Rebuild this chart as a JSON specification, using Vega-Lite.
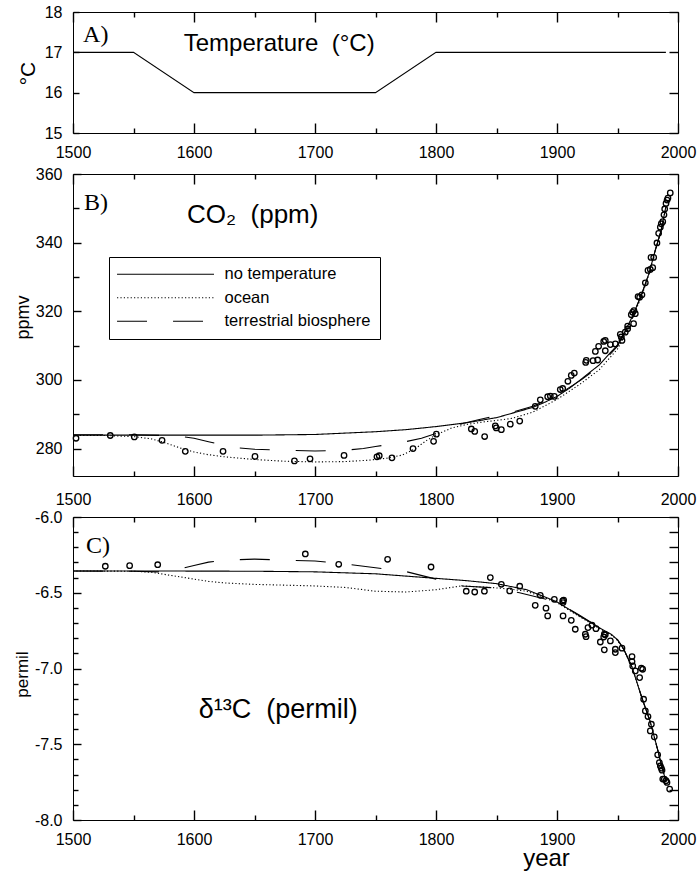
{
  "$schema": "https://vega.github.io/schema/vega-lite/v6.json",
  "background": "white",
  "padding": {"left": 12, "top": 3, "right": 3, "bottom": 0},
  "bounds": "flush",
  "spacing": 41,
  "resolve": {"scale": {"strokeDash": "independent"}, "legend": {"strokeDash": "independent"}},
  "config": {
    "font": "Liberation Sans",
    "view": {"stroke": "black", "strokeWidth": 1, "fill": "white"},
    "axis": {
      "grid": false,
      "domain": false,
      "labelFont": "Liberation Sans",
      "labelFontSize": 16,
      "labelColor": "black",
      "tickColor": "black",
      "tickWidth": 1.4,
      "titleFont": "Liberation Sans",
      "titleFontWeight": "normal",
      "titleColor": "black",
      "labelFlush": false,
      "labelOverlap": false,
      "labelBound": false
    }
  },
  "datasets": {
    "temperature": [
      {"year": 1500, "value": 17}, {"year": 1550, "value": 17}, {"year": 1600, "value": 16},
      {"year": 1750, "value": 16}, {"year": 1800, "value": 17}, {"year": 1990, "value": 17}
    ],
    "co2_model": [
      {"series": "no temperature", "year": 1500, "value": 283.9},
      {"series": "no temperature", "year": 1600, "value": 283.9},
      {"series": "no temperature", "year": 1650, "value": 283.9},
      {"series": "no temperature", "year": 1700, "value": 284.1},
      {"series": "no temperature", "year": 1750, "value": 284.9},
      {"series": "no temperature", "year": 1775, "value": 285.5},
      {"series": "no temperature", "year": 1800, "value": 286.4},
      {"series": "no temperature", "year": 1825, "value": 287.5},
      {"series": "no temperature", "year": 1850, "value": 289.0},
      {"series": "no temperature", "year": 1865, "value": 290.5},
      {"series": "no temperature", "year": 1880, "value": 292.0},
      {"series": "no temperature", "year": 1890, "value": 293.5},
      {"series": "no temperature", "year": 1900, "value": 295.2},
      {"series": "no temperature", "year": 1910, "value": 297.5},
      {"series": "no temperature", "year": 1920, "value": 300.2},
      {"series": "no temperature", "year": 1935, "value": 304.4},
      {"series": "no temperature", "year": 1950, "value": 310.2},
      {"series": "no temperature", "year": 1956, "value": 314.0},
      {"series": "no temperature", "year": 1963, "value": 319.0},
      {"series": "no temperature", "year": 1970, "value": 325.0},
      {"series": "no temperature", "year": 1976, "value": 331.0},
      {"series": "no temperature", "year": 1981, "value": 337.5},
      {"series": "no temperature", "year": 1986, "value": 343.5},
      {"series": "no temperature", "year": 1990, "value": 350.5},
      {"series": "ocean", "year": 1500, "value": 283.8},
      {"series": "ocean", "year": 1525, "value": 283.8},
      {"series": "ocean", "year": 1550, "value": 283.5},
      {"series": "ocean", "year": 1565, "value": 282.8},
      {"series": "ocean", "year": 1575, "value": 281.8},
      {"series": "ocean", "year": 1590, "value": 280.0},
      {"series": "ocean", "year": 1600, "value": 279.0},
      {"series": "ocean", "year": 1612, "value": 278.2},
      {"series": "ocean", "year": 1625, "value": 277.6},
      {"series": "ocean", "year": 1650, "value": 276.8},
      {"series": "ocean", "year": 1675, "value": 276.3},
      {"series": "ocean", "year": 1700, "value": 276.1},
      {"series": "ocean", "year": 1725, "value": 276.2},
      {"series": "ocean", "year": 1744, "value": 276.6},
      {"series": "ocean", "year": 1760, "value": 277.2},
      {"series": "ocean", "year": 1772, "value": 278.1},
      {"series": "ocean", "year": 1783, "value": 280.0},
      {"series": "ocean", "year": 1792, "value": 282.3},
      {"series": "ocean", "year": 1800, "value": 284.0},
      {"series": "ocean", "year": 1813, "value": 286.0},
      {"series": "ocean", "year": 1825, "value": 287.0},
      {"series": "ocean", "year": 1838, "value": 287.7},
      {"series": "ocean", "year": 1850, "value": 288.2},
      {"series": "ocean", "year": 1863, "value": 288.8},
      {"series": "ocean", "year": 1880, "value": 290.6},
      {"series": "ocean", "year": 1900, "value": 294.3},
      {"series": "ocean", "year": 1920, "value": 299.0},
      {"series": "ocean", "year": 1935, "value": 303.0},
      {"series": "ocean", "year": 1950, "value": 309.0},
      {"series": "ocean", "year": 1956, "value": 313.0},
      {"series": "ocean", "year": 1963, "value": 318.5},
      {"series": "ocean", "year": 1970, "value": 324.5},
      {"series": "ocean", "year": 1976, "value": 330.7},
      {"series": "ocean", "year": 1981, "value": 337.3},
      {"series": "ocean", "year": 1986, "value": 343.3},
      {"series": "ocean", "year": 1990, "value": 350.5},
      {"series": "terrestrial biosphere", "year": 1500, "value": 284.0},
      {"series": "terrestrial biosphere", "year": 1550, "value": 284.0},
      {"series": "terrestrial biosphere", "year": 1575, "value": 283.8},
      {"series": "terrestrial biosphere", "year": 1590, "value": 283.5},
      {"series": "terrestrial biosphere", "year": 1600, "value": 283.0},
      {"series": "terrestrial biosphere", "year": 1612, "value": 282.0},
      {"series": "terrestrial biosphere", "year": 1625, "value": 280.9},
      {"series": "terrestrial biosphere", "year": 1637, "value": 280.2},
      {"series": "terrestrial biosphere", "year": 1650, "value": 279.8},
      {"series": "terrestrial biosphere", "year": 1675, "value": 279.5},
      {"series": "terrestrial biosphere", "year": 1700, "value": 279.3},
      {"series": "terrestrial biosphere", "year": 1725, "value": 279.5},
      {"series": "terrestrial biosphere", "year": 1740, "value": 280.0},
      {"series": "terrestrial biosphere", "year": 1750, "value": 280.6},
      {"series": "terrestrial biosphere", "year": 1762, "value": 281.2},
      {"series": "terrestrial biosphere", "year": 1775, "value": 282.0},
      {"series": "terrestrial biosphere", "year": 1788, "value": 283.0},
      {"series": "terrestrial biosphere", "year": 1800, "value": 284.4},
      {"series": "terrestrial biosphere", "year": 1812, "value": 285.9},
      {"series": "terrestrial biosphere", "year": 1822, "value": 287.3},
      {"series": "terrestrial biosphere", "year": 1835, "value": 288.4},
      {"series": "terrestrial biosphere", "year": 1848, "value": 289.4},
      {"series": "terrestrial biosphere", "year": 1863, "value": 290.6},
      {"series": "terrestrial biosphere", "year": 1880, "value": 292.3},
      {"series": "terrestrial biosphere", "year": 1900, "value": 295.5},
      {"series": "terrestrial biosphere", "year": 1920, "value": 300.0},
      {"series": "terrestrial biosphere", "year": 1935, "value": 304.0},
      {"series": "terrestrial biosphere", "year": 1950, "value": 309.8},
      {"series": "terrestrial biosphere", "year": 1956, "value": 313.8},
      {"series": "terrestrial biosphere", "year": 1963, "value": 319.0},
      {"series": "terrestrial biosphere", "year": 1970, "value": 325.0},
      {"series": "terrestrial biosphere", "year": 1976, "value": 331.0},
      {"series": "terrestrial biosphere", "year": 1981, "value": 337.5},
      {"series": "terrestrial biosphere", "year": 1986, "value": 343.5},
      {"series": "terrestrial biosphere", "year": 1990, "value": 350.5}
    ],
    "co2_obs": [
      {"year": 1502.5, "value": 283.0}, {"year": 1530.8, "value": 283.8}, {"year": 1550.7, "value": 283.4},
      {"year": 1573.6, "value": 282.4}, {"year": 1592.8, "value": 279.2}, {"year": 1624.0, "value": 279.2},
      {"year": 1650.4, "value": 277.7}, {"year": 1683.0, "value": 276.4}, {"year": 1695.9, "value": 277.0},
      {"year": 1724.0, "value": 278.0}, {"year": 1751.2, "value": 277.6}, {"year": 1753.1, "value": 277.9},
      {"year": 1763.6, "value": 277.3}, {"year": 1781.0, "value": 280.0}, {"year": 1798.0, "value": 282.1},
      {"year": 1800.3, "value": 284.2}, {"year": 1829.2, "value": 285.7}, {"year": 1832.0, "value": 285.0},
      {"year": 1840.2, "value": 283.5}, {"year": 1849.0, "value": 286.6}, {"year": 1849.8, "value": 286.0},
      {"year": 1854.0, "value": 285.5}, {"year": 1861.4, "value": 287.1}, {"year": 1869.2, "value": 288.0},
      {"year": 1882.0, "value": 292.3}, {"year": 1886.2, "value": 294.2}, {"year": 1892.3, "value": 295.1},
      {"year": 1894.5, "value": 295.3}, {"year": 1897.8, "value": 295.2}, {"year": 1902.7, "value": 297.2},
      {"year": 1904.7, "value": 297.5}, {"year": 1909.0, "value": 299.6}, {"year": 1911.8, "value": 301.3},
      {"year": 1914.3, "value": 302.0}, {"year": 1923.7, "value": 305.1}, {"year": 1924.2, "value": 305.7},
      {"year": 1929.8, "value": 305.6}, {"year": 1933.6, "value": 305.8}, {"year": 1931.7, "value": 308.3},
      {"year": 1934.4, "value": 309.8}, {"year": 1938.6, "value": 311.2}, {"year": 1939.9, "value": 311.5},
      {"year": 1939.9, "value": 308.5}, {"year": 1944.1, "value": 310.3}, {"year": 1948.2, "value": 310.5},
      {"year": 1952.3, "value": 313.3}, {"year": 1953.1, "value": 312.5}, {"year": 1953.7, "value": 311.5},
      {"year": 1956.4, "value": 313.9}, {"year": 1958.4, "value": 315.7}, {"year": 1958.4, "value": 314.9},
      {"year": 1961.4, "value": 319.0}, {"year": 1962.5, "value": 319.7}, {"year": 1963.6, "value": 320.2},
      {"year": 1964.7, "value": 319.3}, {"year": 1963.3, "value": 316.4}, {"year": 1967.0, "value": 324.3},
      {"year": 1968.3, "value": 324.1}, {"year": 1970.2, "value": 324.8}, {"year": 1973.0, "value": 328.3},
      {"year": 1975.2, "value": 331.9}, {"year": 1977.1, "value": 332.2}, {"year": 1979.1, "value": 332.7},
      {"year": 1977.7, "value": 335.7}, {"year": 1979.9, "value": 335.7}, {"year": 1982.6, "value": 339.9},
      {"year": 1984.0, "value": 342.7}, {"year": 1985.4, "value": 344.5}, {"year": 1986.2, "value": 345.5},
      {"year": 1987.4, "value": 346.1}, {"year": 1988.4, "value": 348.1}, {"year": 1989.0, "value": 349.8},
      {"year": 1990.1, "value": 351.4}, {"year": 1991.0, "value": 352.4}, {"year": 1991.7, "value": 353.0},
      {"year": 1993.6, "value": 354.5}
    ],
    "d13c_model": [
      {"series": "no temperature", "year": 1500, "value": -6.356},
      {"series": "no temperature", "year": 1600, "value": -6.357},
      {"series": "no temperature", "year": 1650, "value": -6.358},
      {"series": "no temperature", "year": 1700, "value": -6.362},
      {"series": "no temperature", "year": 1750, "value": -6.375},
      {"series": "no temperature", "year": 1775, "value": -6.39},
      {"series": "no temperature", "year": 1800, "value": -6.405},
      {"series": "no temperature", "year": 1825, "value": -6.42},
      {"series": "no temperature", "year": 1850, "value": -6.44},
      {"series": "no temperature", "year": 1875, "value": -6.48},
      {"series": "no temperature", "year": 1900, "value": -6.56},
      {"series": "no temperature", "year": 1918, "value": -6.65},
      {"series": "no temperature", "year": 1937, "value": -6.74},
      {"series": "no temperature", "year": 1945, "value": -6.775},
      {"series": "no temperature", "year": 1950, "value": -6.81},
      {"series": "no temperature", "year": 1955, "value": -6.87},
      {"series": "no temperature", "year": 1962, "value": -6.99},
      {"series": "no temperature", "year": 1970, "value": -7.19},
      {"series": "no temperature", "year": 1977, "value": -7.35},
      {"series": "no temperature", "year": 1983, "value": -7.53},
      {"series": "no temperature", "year": 1987, "value": -7.66},
      {"series": "no temperature", "year": 1990, "value": -7.74},
      {"series": "ocean", "year": 1500, "value": -6.356},
      {"series": "ocean", "year": 1550, "value": -6.358},
      {"series": "ocean", "year": 1565, "value": -6.365},
      {"series": "ocean", "year": 1575, "value": -6.378},
      {"series": "ocean", "year": 1590, "value": -6.397},
      {"series": "ocean", "year": 1600, "value": -6.41},
      {"series": "ocean", "year": 1612, "value": -6.425},
      {"series": "ocean", "year": 1625, "value": -6.435},
      {"series": "ocean", "year": 1650, "value": -6.445},
      {"series": "ocean", "year": 1675, "value": -6.45},
      {"series": "ocean", "year": 1700, "value": -6.455},
      {"series": "ocean", "year": 1725, "value": -6.465},
      {"series": "ocean", "year": 1750, "value": -6.49},
      {"series": "ocean", "year": 1775, "value": -6.495},
      {"series": "ocean", "year": 1800, "value": -6.48},
      {"series": "ocean", "year": 1821, "value": -6.455},
      {"series": "ocean", "year": 1845, "value": -6.465},
      {"series": "ocean", "year": 1860, "value": -6.475},
      {"series": "ocean", "year": 1875, "value": -6.49},
      {"series": "ocean", "year": 1900, "value": -6.565},
      {"series": "ocean", "year": 1918, "value": -6.655},
      {"series": "ocean", "year": 1937, "value": -6.745},
      {"series": "ocean", "year": 1945, "value": -6.78},
      {"series": "ocean", "year": 1950, "value": -6.815},
      {"series": "ocean", "year": 1955, "value": -6.875},
      {"series": "ocean", "year": 1962, "value": -6.99},
      {"series": "ocean", "year": 1970, "value": -7.19},
      {"series": "ocean", "year": 1977, "value": -7.35},
      {"series": "ocean", "year": 1983, "value": -7.53},
      {"series": "ocean", "year": 1987, "value": -7.66},
      {"series": "ocean", "year": 1990, "value": -7.74},
      {"series": "terrestrial biosphere", "year": 1500, "value": -6.356},
      {"series": "terrestrial biosphere", "year": 1550, "value": -6.358},
      {"series": "terrestrial biosphere", "year": 1570, "value": -6.362},
      {"series": "terrestrial biosphere", "year": 1585, "value": -6.35},
      {"series": "terrestrial biosphere", "year": 1600, "value": -6.32},
      {"series": "terrestrial biosphere", "year": 1612, "value": -6.298},
      {"series": "terrestrial biosphere", "year": 1625, "value": -6.285},
      {"series": "terrestrial biosphere", "year": 1650, "value": -6.278},
      {"series": "terrestrial biosphere", "year": 1675, "value": -6.285},
      {"series": "terrestrial biosphere", "year": 1700, "value": -6.29},
      {"series": "terrestrial biosphere", "year": 1725, "value": -6.31},
      {"series": "terrestrial biosphere", "year": 1750, "value": -6.335},
      {"series": "terrestrial biosphere", "year": 1775, "value": -6.36},
      {"series": "terrestrial biosphere", "year": 1800, "value": -6.41},
      {"series": "terrestrial biosphere", "year": 1822, "value": -6.455},
      {"series": "terrestrial biosphere", "year": 1845, "value": -6.466},
      {"series": "terrestrial biosphere", "year": 1869, "value": -6.5},
      {"series": "terrestrial biosphere", "year": 1900, "value": -6.56},
      {"series": "terrestrial biosphere", "year": 1918, "value": -6.645},
      {"series": "terrestrial biosphere", "year": 1937, "value": -6.74},
      {"series": "terrestrial biosphere", "year": 1945, "value": -6.775},
      {"series": "terrestrial biosphere", "year": 1950, "value": -6.81},
      {"series": "terrestrial biosphere", "year": 1955, "value": -6.87},
      {"series": "terrestrial biosphere", "year": 1962, "value": -6.99},
      {"series": "terrestrial biosphere", "year": 1970, "value": -7.19},
      {"series": "terrestrial biosphere", "year": 1977, "value": -7.35},
      {"series": "terrestrial biosphere", "year": 1983, "value": -7.53},
      {"series": "terrestrial biosphere", "year": 1987, "value": -7.66},
      {"series": "terrestrial biosphere", "year": 1990, "value": -7.74}
    ],
    "d13c_obs": [
      {"year": 1526.7, "value": -6.325}, {"year": 1546.8, "value": -6.321}, {"year": 1570.0, "value": -6.315},
      {"year": 1692.0, "value": -6.244}, {"year": 1719.6, "value": -6.312}, {"year": 1760.0, "value": -6.279},
      {"year": 1795.9, "value": -6.33}, {"year": 1825.0, "value": -6.49}, {"year": 1832.0, "value": -6.495},
      {"year": 1840.0, "value": -6.49}, {"year": 1844.9, "value": -6.4}, {"year": 1854.0, "value": -6.444},
      {"year": 1860.9, "value": -6.488}, {"year": 1869.2, "value": -6.457}, {"year": 1882.0, "value": -6.583},
      {"year": 1886.2, "value": -6.517}, {"year": 1890.9, "value": -6.602}, {"year": 1892.3, "value": -6.653},
      {"year": 1897.8, "value": -6.543}, {"year": 1904.7, "value": -6.554}, {"year": 1905.5, "value": -6.548},
      {"year": 1905.0, "value": -6.565}, {"year": 1905.0, "value": -6.653}, {"year": 1911.8, "value": -6.682},
      {"year": 1915.1, "value": -6.741}, {"year": 1923.4, "value": -6.774}, {"year": 1924.0, "value": -6.79},
      {"year": 1925.6, "value": -6.73}, {"year": 1928.9, "value": -6.714}, {"year": 1932.2, "value": -6.737},
      {"year": 1935.8, "value": -6.825}, {"year": 1938.6, "value": -6.792}, {"year": 1939.1, "value": -6.774},
      {"year": 1939.9, "value": -6.778}, {"year": 1939.1, "value": -6.877}, {"year": 1944.1, "value": -6.818},
      {"year": 1948.2, "value": -6.873}, {"year": 1948.2, "value": -6.895}, {"year": 1953.7, "value": -6.866},
      {"year": 1962.0, "value": -6.921}, {"year": 1962.0, "value": -6.954}, {"year": 1962.6, "value": -6.983},
      {"year": 1964.7, "value": -7.016}, {"year": 1968.3, "value": -7.06}, {"year": 1969.7, "value": -6.998},
      {"year": 1970.8, "value": -7.005}, {"year": 1971.6, "value": -7.203}, {"year": 1973.0, "value": -7.28},
      {"year": 1975.2, "value": -7.317}, {"year": 1978.0, "value": -7.368}, {"year": 1977.1, "value": -7.412},
      {"year": 1980.4, "value": -7.451}, {"year": 1983.2, "value": -7.57}, {"year": 1984.6, "value": -7.621},
      {"year": 1985.4, "value": -7.643}, {"year": 1986.2, "value": -7.658}, {"year": 1986.8, "value": -7.671},
      {"year": 1987.4, "value": -7.73}, {"year": 1988.7, "value": -7.73}, {"year": 1990.1, "value": -7.741},
      {"year": 1990.9, "value": -7.752}, {"year": 1993.1, "value": -7.796}
    ]
  },
  "vconcat": [
    {
      "width": 605,
      "height": 121,
      "resolve": {"axis": {"x": "independent", "y": "independent"}},
      "layer": [
        {
          "data": {"name": "temperature"},
          "mark": {"type": "line", "color": "black", "strokeWidth": 1.1},
          "encoding": {
            "x": {
              "field": "year", "type": "quantitative",
              "scale": {"domain": [1500, 2000], "nice": false, "zero": false},
              "axis": {
                "orient": "bottom", "title": null, "format": "d", "ticks": false,
                "values": [1500, 1600, 1700, 1800, 1900, 2000],
                "labelPadding": 11
              }
            },
            "y": {
              "field": "value", "type": "quantitative",
              "scale": {"domain": [15, 18], "nice": false, "zero": false},
              "axis": {
                "orient": "left", "values": [15, 16, 17, 18], "format": "d", "ticks": false,
                "labelPadding": 11,
                "title": "°C", "titleFontSize": 21, "titleAngle": 270,
                "titleX": -45, "titleY": 61, "titleBaseline": "middle", "titleAlign": "center"
              }
            }
          }
        },
        {
          "data": {"values": [{}]},
          "mark": {"type": "text", "text": "A)", "font": "Liberation Serif", "fontSize": 24, "align": "left", "baseline": "alphabetic", "color": "black"},
          "encoding": {
            "x": {
              "datum": 1508.3, "type": "quantitative",
              "axis": {
                "orient": "top", "offset": -121, "title": null, "labels": false,
                "values": [1500, 1550, 1600, 1650, 1700, 1750, 1800, 1850, 1900, 1950, 2000],
                "tickSize": {"condition": {"test": "datum.value % 100 === 0", "value": 10}, "value": 5}
              }
            },
            "y": {
              "datum": 17.26, "type": "quantitative",
              "axis": {"orient": "right", "offset": -605, "title": null, "labels": false, "values": [15, 16, 17, 18], "tickSize": 6}
            }
          }
        },
        {
          "data": {"values": [{}]},
          "mark": {"type": "text", "text": "Temperature\u00a0\u00a0(°C)", "font": "Liberation Sans", "fontSize": 24, "align": "left", "baseline": "alphabetic", "color": "black"},
          "encoding": {
            "x": {
              "datum": 1591.5, "type": "quantitative",
              "axis": {
                "orient": "bottom", "offset": -121, "title": null, "labels": false,
                "values": [1500, 1550, 1600, 1650, 1700, 1750, 1800, 1850, 1900, 1950, 2000],
                "tickSize": {"condition": {"test": "datum.value % 100 === 0", "value": 10}, "value": 5}
              }
            },
            "y": {
              "datum": 17.04, "type": "quantitative",
              "axis": {"orient": "left", "offset": -605, "title": null, "labels": false, "values": [15, 16, 17, 18], "tickSize": 9}
            }
          }
        }
      ]
    },
    {
      "width": 605,
      "height": 302,
      "resolve": {"axis": {"x": "independent", "y": "independent"}},
      "layer": [
        {
          "data": {"name": "co2_model"},
          "mark": {"type": "line", "color": "black", "strokeWidth": 1.1},
          "encoding": {
            "x": {
              "field": "year", "type": "quantitative",
              "scale": {"domain": [1500, 2000], "nice": false, "zero": false},
              "axis": {
                "orient": "bottom", "title": null, "format": "d", "ticks": false,
                "values": [1500, 1600, 1700, 1800, 1900, 2000],
                "labelPadding": 15
              }
            },
            "y": {
              "field": "value", "type": "quantitative",
              "scale": {"domain": [272, 360], "nice": false, "zero": false},
              "axis": {
                "orient": "left", "format": "d", "ticks": false,
                "values": [280, 300, 320, 340, 360],
                "labelPadding": 11,
                "title": "ppmv", "titleFontSize": 18, "titleAngle": 270,
                "titleX": -50, "titleY": 143, "titleBaseline": "middle", "titleAlign": "center"
              }
            },
            "strokeDash": {
              "field": "series", "type": "nominal",
              "scale": {"domain": ["no temperature", "ocean", "terrestrial biosphere"], "range": [[1, 0], [1.2, 2.2], [30, 26]]},
              "legend": {
                "orient": "none", "legendX": 36, "legendY": 83, "title": null,
                "symbolType": "M-1.9,0H18.1", "symbolSize": 94, "symbolStrokeWidth": 1.1, "symbolStrokeColor": "black",
                "labelOffset": 90, "labelFontSize": 16.5, "labelFont": "Liberation Sans", "labelColor": "black", "labelLimit": 400,
                "rowPadding": 6.5, "padding": 9, "strokeColor": "black", "fillColor": "white"
              }
            }
          }
        },
        {
          "data": {"name": "co2_obs"},
          "mark": {"type": "point", "shape": "circle", "filled": false, "color": "black", "size": 30, "strokeWidth": 1.3, "opacity": 1},
          "encoding": {
            "x": {
              "field": "year", "type": "quantitative",
              "axis": {
                "orient": "top", "offset": -302, "title": null, "labels": false,
                "values": [1500, 1550, 1600, 1650, 1700, 1750, 1800, 1850, 1900, 1950, 2000],
                "tickSize": {"condition": {"test": "datum.value % 100 === 0", "value": 10}, "value": 5}
              }
            },
            "y": {
              "field": "value", "type": "quantitative",
              "axis": {
                "orient": "right", "offset": -605, "title": null, "labels": false,
                "values": [280, 290, 300, 310, 320, 330, 340, 350, 360],
                "tickSize": {"condition": {"test": "datum.value % 20 === 0", "value": 8}, "value": 6}
              }
            }
          }
        },
        {
          "data": {"values": [{}]},
          "mark": {"type": "text", "text": "B)", "font": "Liberation Serif", "fontSize": 24, "align": "left", "baseline": "alphabetic", "color": "black"},
          "encoding": {
            "x": {
              "datum": 1509, "type": "quantitative",
              "axis": {
                "orient": "bottom", "offset": -302, "title": null, "labels": false,
                "values": [1500, 1550, 1600, 1650, 1700, 1750, 1800, 1850, 1900, 1950, 2000],
                "tickSize": {"condition": {"test": "datum.value % 100 === 0", "value": 10}, "value": 5}
              }
            },
            "y": {
              "datum": 349.6, "type": "quantitative",
              "axis": {
                "orient": "left", "offset": -605, "title": null, "labels": false,
                "values": [280, 290, 300, 310, 320, 330, 340, 350, 360],
                "tickSize": 9
              }
            }
          }
        },
        {
          "data": {"values": [{}]},
          "mark": {"type": "text", "text": "CO₂\u00a0\u00a0(ppm)", "font": "Liberation Sans, DejaVu Sans", "fontSize": 26, "align": "left", "baseline": "alphabetic", "color": "black"},
          "encoding": {
            "x": {"datum": 1594.2, "type": "quantitative", "axis": null},
            "y": {"datum": 345.7, "type": "quantitative", "axis": null}
          }
        }
      ]
    },
    {
      "width": 605,
      "height": 303,
      "resolve": {"axis": {"x": "independent", "y": "independent"}},
      "layer": [
        {
          "data": {"name": "d13c_model"},
          "mark": {"type": "line", "color": "black", "strokeWidth": 1.1},
          "encoding": {
            "x": {
              "field": "year", "type": "quantitative",
              "scale": {"domain": [1500, 2000], "nice": false, "zero": false},
              "axis": {
                "orient": "bottom", "format": "d", "ticks": false,
                "values": [1500, 1600, 1700, 1800, 1900, 2000],
                "labelPadding": 11,
                "title": "year", "titleFontSize": 24, "titleX": 473, "titleY": 45,
                "titleBaseline": "alphabetic", "titleAlign": "center"
              }
            },
            "y": {
              "field": "value", "type": "quantitative",
              "scale": {"domain": [-8, -6], "nice": false, "zero": false},
              "axis": {
                "orient": "left", "format": ".1f", "ticks": false,
                "values": [-8.0, -7.5, -7.0, -6.5, -6.0],
                "labelExpr": "replace(datum.label, '\u2212', '-')",
                "labelPadding": 11,
                "title": "permil", "titleFontSize": 17, "titleAngle": 270,
                "titleX": -51, "titleY": 157, "titleBaseline": "middle", "titleAlign": "center"
              }
            },
            "strokeDash": {
              "field": "series", "type": "nominal",
              "scale": {"domain": ["no temperature", "ocean", "terrestrial biosphere"], "range": [[1, 0], [1.2, 2.2], [30, 26]]},
              "legend": null
            }
          }
        },
        {
          "data": {"name": "d13c_obs"},
          "mark": {"type": "point", "shape": "circle", "filled": false, "color": "black", "size": 30, "strokeWidth": 1.3, "opacity": 1},
          "encoding": {
            "x": {
              "field": "year", "type": "quantitative",
              "axis": {
                "orient": "top", "offset": -303, "title": null, "labels": false,
                "values": [1500, 1550, 1600, 1650, 1700, 1750, 1800, 1850, 1900, 1950, 2000],
                "tickSize": {"condition": {"test": "datum.value % 100 === 0", "value": 10}, "value": 5}
              }
            },
            "y": {
              "field": "value", "type": "quantitative",
              "axis": {
                "orient": "right", "offset": -605, "title": null, "labels": false,
                "values": [-8.0, -7.9, -7.8, -7.7, -7.6, -7.5, -7.4, -7.3, -7.2, -7.1, -7.0, -6.9, -6.8, -6.7, -6.6, -6.5, -6.4, -6.3, -6.2, -6.1, -6.0],
                "tickSize": {"condition": {"test": "abs(datum.value * 2 - round(datum.value * 2)) < 0.001", "value": 8}, "value": 5}
              }
            }
          }
        },
        {
          "data": {"values": [{}]},
          "mark": {"type": "text", "text": "C)", "font": "Liberation Serif", "fontSize": 24, "align": "left", "baseline": "alphabetic", "color": "black"},
          "encoding": {
            "x": {
              "datum": 1510.7, "type": "quantitative",
              "axis": {
                "orient": "bottom", "offset": -303, "title": null, "labels": false,
                "values": [1500, 1550, 1600, 1650, 1700, 1750, 1800, 1850, 1900, 1950, 2000],
                "tickSize": {"condition": {"test": "datum.value % 100 === 0", "value": 10}, "value": 5}
              }
            },
            "y": {
              "datum": -6.237, "type": "quantitative",
              "axis": {
                "orient": "left", "offset": -605, "title": null, "labels": false,
                "values": [-8.0, -7.9, -7.8, -7.7, -7.6, -7.5, -7.4, -7.3, -7.2, -7.1, -7.0, -6.9, -6.8, -6.7, -6.6, -6.5, -6.4, -6.3, -6.2, -6.1, -6.0],
                "tickSize": 9
              }
            }
          }
        },
        {
          "data": {"values": [{}]},
          "mark": {"type": "text", "text": "δ¹³C\u00a0\u00a0(permil)", "font": "Liberation Sans", "fontSize": 27, "align": "left", "baseline": "alphabetic", "color": "black"},
          "encoding": {
            "x": {"datum": 1603.9, "type": "quantitative", "axis": null},
            "y": {"datum": -7.328, "type": "quantitative", "axis": null}
          }
        }
      ]
    }
  ]
}
